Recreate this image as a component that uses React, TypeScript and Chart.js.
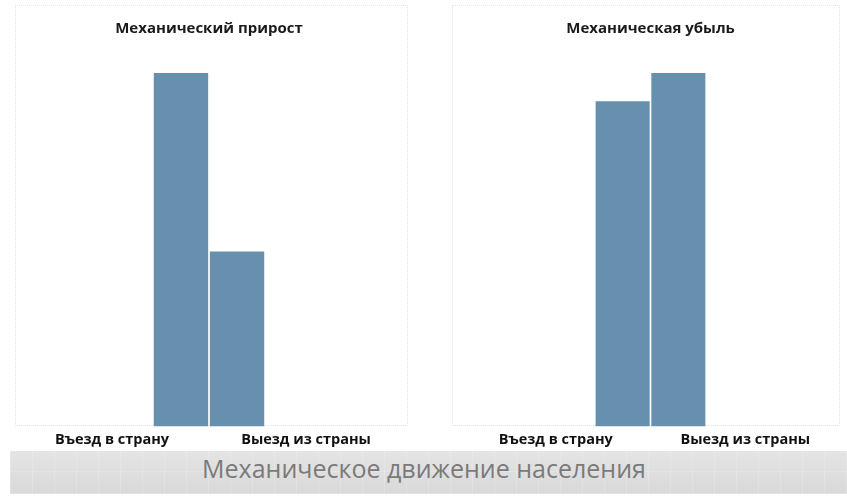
import React, { useEffect, useRef } from "react";
import { Chart, registerables } from "chart.js";

Chart.register(...registerables);

const categories = ["Въезд в страну", "Выезд из страны"];
const panelTitles = ["Механический прирост", "Механическая убыль"];
const growthValues = [100, 49.5];
const lossValues = [92, 100];
const bannerText = "Механическое движение населения";

const BAR_COLOR = "#6790ae";

function Panel({
  title,
  values,
  left,
  width,
  padL,
  padR,
  catPct,
}: {
  title: string;
  values: number[];
  left: number;
  width: number;
  padL: number;
  padR: number;
  catPct: number;
}) {
  const ref = useRef<HTMLCanvasElement | null>(null);
  useEffect(() => {
    if (!ref.current) return;
    const chart = new Chart(ref.current, {
      type: "bar",
      data: {
        labels: [""],
        datasets: categories.map((c, i) => ({
          label: c,
          data: [values[i]],
          backgroundColor: BAR_COLOR,
          borderWidth: 0,
          xAxisID: "x",
          categoryPercentage: catPct,
          barPercentage: 0.97,
        })),
      },
      options: {
        animation: false,
        responsive: false,
        maintainAspectRatio: false,
        layout: { padding: { left: padL, right: padR, top: 0, bottom: 0 } },
        plugins: {
          legend: { display: false },
          tooltip: { enabled: false },
          title: {
            display: true,
            text: title,
            color: "#1a1a1a",
            font: { family: "'Open Sans'", size: 15, weight: "bold" },
            padding: { top: 15, bottom: 35 },
          },
        },
        scales: {
          x: { display: false, offset: true },
          x2: {
            type: "category",
            labels: categories,
            position: "bottom",
            offset: true,
            grid: { display: false, drawTicks: false },
            border: { display: false },
            ticks: {
              color: "#111",
              padding: 5,
              maxRotation: 0,
              font: { family: "'Open Sans'", size: 14.5, weight: "bold" },
            },
          },
          y: { display: false, min: 0, max: 100 },
        },
      },
    });
    return () => chart.destroy();
  }, [title, values]);
  return (
    <div style={{ position: "absolute", left, top: 5, width, height: 449 }}>
      <div
        style={{
          position: "absolute",
          left: 0,
          top: 0,
          width: width - 2,
          height: 419,
          border: "1px dotted #e4e4e4",
        }}
      />
      <canvas ref={ref} width={width} height={449} style={{ position: "absolute", left: 0, top: 0 }} />
    </div>
  );
}

export default function App() {
  return (
    <div
      style={{
        position: "fixed",
        left: 0,
        top: 0,
        width: 847,
        height: 499,
        background: "#ffffff",
        overflow: "hidden",
      }}
    >
      <Panel title={panelTitles[0]} values={growthValues} left={15} width={393} padL={0} padR={5} catPct={0.289} />
      <Panel title={panelTitles[1]} values={lossValues} left={452} width={388} padL={9} padR={0} catPct={0.294} />
      <div
        style={{
          position: "absolute",
          left: 10,
          top: 451,
          width: 837,
          height: 43,
          background:
            "repeating-linear-gradient(90deg, rgba(255,255,255,0.18) 0 1px, transparent 1px 22px), repeating-linear-gradient(0deg, rgba(255,255,255,0.18) 0 1px, transparent 1px 22px), linear-gradient(#e4e4e4, #d9d9d9)",
          display: "flex",
          alignItems: "center",
          justifyContent: "center",
        }}
      >
        <span
          style={{
            fontFamily: "'Open Sans'",
            fontSize: 25,
            color: "#7a7a7a",
            marginLeft: -9,
            marginTop: -9,
          }}
        >
          {bannerText}
        </span>
      </div>
    </div>
  );
}
